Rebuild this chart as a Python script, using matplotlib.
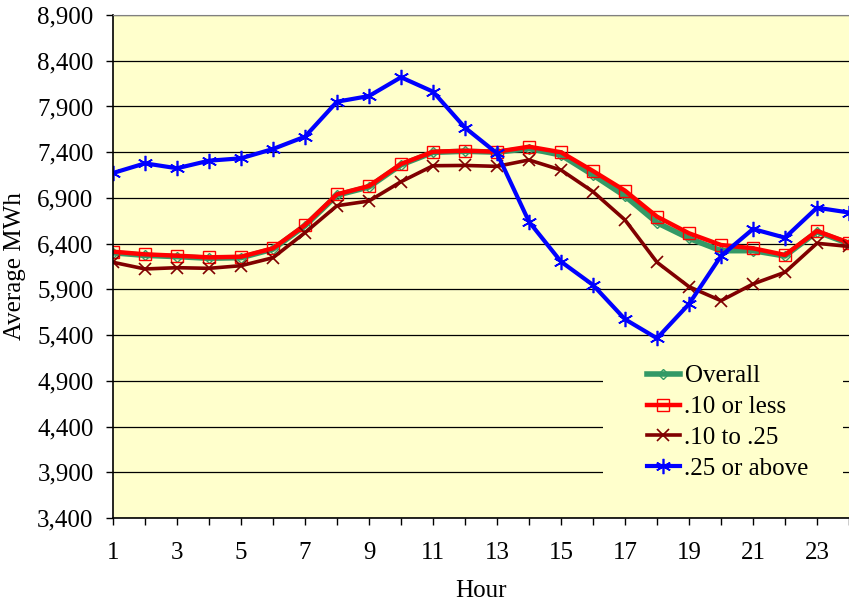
import numpy as np
import matplotlib
matplotlib.use("Agg")
import matplotlib.pyplot as plt
from matplotlib.patches import Rectangle

plt.rcParams.update({"font.family": ["Liberation Serif", "DejaVu Serif"], "font.size": 18})

hours = list(range(1, 25))
overall = [6300, 6272, 6258, 6240, 6247, 6340, 6595, 6930, 7020, 7262, 7398, 7410,
           7400, 7440, 7369, 7151, 6921, 6629, 6458, 6323, 6323, 6265, 6530, 6400]
low = [6312, 6283, 6268, 6250, 6257, 6349, 6604, 6939, 7030, 7271, 7405, 7416,
       7405, 7460, 7399, 7194, 6979, 6695, 6513, 6385, 6349, 6276, 6538, 6410]
mid = [6196, 6123, 6137, 6130, 6159, 6246, 6520, 6815, 6866, 7077, 7252, 7255,
       7245, 7315, 7205, 6968, 6659, 6196, 5929, 5776, 5959, 6087, 6404, 6369]
high = [7172, 7278, 7224, 7307, 7333, 7435, 7570, 7952, 8014, 8219, 8062, 7668,
        7388, 6640, 6203, 5948, 5573, 5365, 5740, 6265, 6560, 6465, 6793, 6740]
labels = ["Overall", ".10 or less", ".10 to .25", ".25 or above"]
yticks = list(range(3400, 8901, 500))

bg = "#FFFFCC"
fig = plt.figure(figsize=(8.49, 6.03), dpi=100)
ax = fig.add_axes([113/849, 85/603, 736/849, 503/603])
ax.set_facecolor(bg)

ax.plot(hours, overall, color="#339966", lw=4, marker="D", ms=5, mfc="none", mec="#339966", mew=1, label=labels[0])
ax.plot(hours, low, color="#FF0000", lw=3.2, marker="s", ms=8, mfc="none", mec="#FF0000", mew=1, label=labels[1])
ax.plot(hours, mid, color="#800000", lw=2.6, marker="x", ms=8, mew=1.2, label=labels[2])
ax.plot(hours, high, color="#0000FF", lw=3, marker=(6, 2, 0), ms=11, mew=1.2, label=labels[3])

ax.set_xlim(1, 1 + 736/32.3)
ax.set_ylim(3400, 8900)
ax.set_yticks(yticks)
ax.set_yticklabels(["{:,}".format(v) for v in yticks])
ax.set_xticks(hours)
ax.set_xticklabels([str(h) if h % 2 == 1 else "" for h in hours])
ax.yaxis.grid(True, color="black", lw=0.9)
ax.set_axisbelow(True)
ax.tick_params(axis="y", direction="out", length=5, width=1, pad=9)
ax.tick_params(axis="x", direction="out", length=5, width=1, pad=12)
ax.spines["right"].set_visible(False)
ax.spines["top"].set_color("#808080")
ax.spines["left"].set_linewidth(1.2)
ax.spines["bottom"].set_linewidth(1.2)
ax.set_ylabel("Average MWh", labelpad=8)
ax.set_xlabel("Hour", labelpad=12)

# legend background block hiding the gridlines
ax.add_patch(Rectangle((603/849, 1 - 485/603), 240/849, 130/603, transform=fig.transFigure,
                       facecolor=bg, edgecolor="none", zorder=1))
leg = ax.legend(loc="upper left", bbox_to_anchor=(632/849, 1 - 350/603), bbox_transform=fig.transFigure,
                frameon=False, handlelength=1.3, handletextpad=0.2, labelspacing=0.33, borderpad=0.1)

fig.savefig("out.png", dpi=100, facecolor="white")
